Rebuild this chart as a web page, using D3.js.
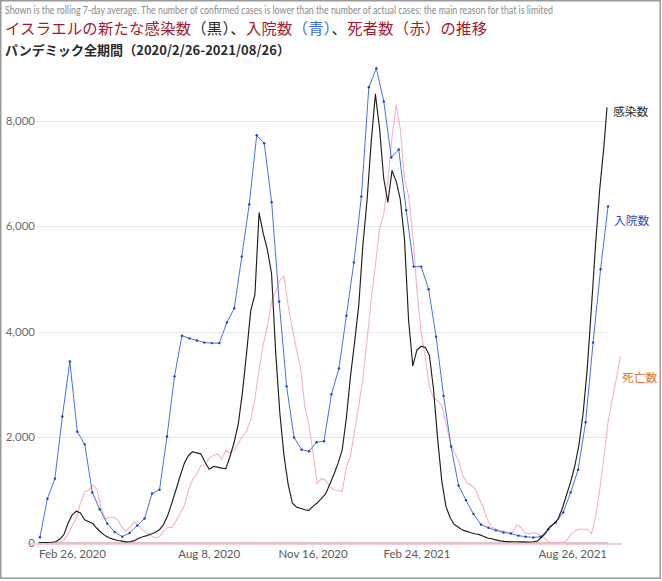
<!DOCTYPE html>
<html><head><meta charset="utf-8">
<script src="https://cdn.jsdelivr.net/npm/d3@7"></script>
<style>
html,body{margin:0;padding:0;background:#fff;}
svg{display:block;}
</style>
</head><body>
<svg id="chart" width="662" height="581"></svg>
<script>
// ---------- DATA ----------
const startDate = "2020-02-26";
const endDate = "2021-08-26";
const yTicks = [0, 2000, 4000, 6000, 8000];
const xTickDates = ["2020-02-26", "2020-08-08", "2020-11-16", "2021-02-24", "2021-08-26"];
const xTickLabels = ["Feb 26, 2020", "Aug 8, 2020", "Nov 16, 2020", "Feb 24, 2021", "Aug 26, 2021"];

// Confirmed cases (black), rolling 7-day avg, sampled every 4 days (last = Aug 26, 2021)
const caseStepDays = 4;
const caseValues = [0,0,0,5,15,60,150,360,520,595,560,430,395,360,265,185,130,85,60,38,
25,12,15,35,80,110,130,160,190,240,340,510,750,1000,1260,1500,1650,1720,1700,1680,
1520,1390,1440,1430,1410,1400,1630,1900,2250,2850,3600,4400,4700,6250,5860,5550,5100,3600,2450,1650,
1100,750,670,650,620,610,690,750,830,920,1100,1290,1500,1750,2350,3150,3800,4500,5650,6500,
7600,8500,7850,6900,6450,7050,6850,6500,5750,4200,3350,3650,3720,3700,3550,2900,1950,1150,680,470,
340,290,235,210,185,165,150,120,85,70,50,30,20,18,15,15,13,12,10,15,
25,100,180,300,360,450,650,900,1150,1450,1850,2450,3300,4450,5650,6700,7500,8250];

// Hospitalised (blue), sampled points shown with markers
const hospValues = [100,830,1210,2390,3430,2100,1860,950,630,360,200,110,180,320,455,930,1000,2010,3150,3920,
3870,3830,3790,3780,3780,4170,4440,5420,6410,7720,7570,6450,4570,2960,1990,1760,1730,1900,1920,2810,
3300,4300,5310,6560,8630,8990,8360,7300,7450,6300,5230,5230,4800,3900,2780,1820,1080,800,540,340,
280,230,190,170,130,110,95,110,250,380,570,950,1380,2280,3790,5180,6370];
const hospFirstDay = 1;
const hospLastDay = 548;

// Deaths (red/pink, scaled), sampled every 4 days
const deathStepDays = 4;
const deathValues = [0,0,0,0,0,8,40,160,310,460,750,960,990,1090,1000,650,440,480,480,430,
285,220,300,390,310,240,190,130,90,110,210,290,285,400,555,700,990,1200,1300,1460,
1470,1600,1650,1680,1580,1750,1700,1750,1880,2010,2110,2330,2730,3270,3750,4100,4570,4750,4970,5050,
4490,4060,3660,3300,2580,2230,1700,1120,1210,1180,1070,1000,990,960,1420,1640,2120,2600,3110,3850,
4610,5250,5950,6220,6850,7680,8300,7840,6900,6570,5840,4770,3980,3520,2950,2740,2690,2600,2250,1900,
1710,1560,1280,1130,1090,1020,830,660,420,290,255,230,210,200,190,330,290,190,160,190,
160,120,60,0,0,0,0,30,150,220,250,250,250,170,480,1000,1600,2280,2710,3100,3530];

const seriesLabels = ["感染数", "入院数", "死亡数"];

// ---------- CHART ----------
const svg = d3.select("#chart");
const parse = d3.utcParse("%Y-%m-%d");
const t0 = parse(startDate), t1 = parse(endDate);
const x = d3.scaleUtc().domain([t0, t1]).range([38.9, 607]);
const y = d3.scaleLinear().domain([0, 8000]).range([542.5, 120.5]);

const casePts = caseValues.map((v, i) => ({d: d3.utcDay.offset(t0, Math.min(i * caseStepDays, 547)), v}));
const deathPts = deathValues.map((v, i) => ({d: d3.utcDay.offset(t0, i * deathStepDays), v}));
const hospStep = (hospLastDay - hospFirstDay) / (hospValues.length - 1);
const hospPts = hospValues.map((v, i) => ({d: new Date(t0.getTime() + (hospFirstDay + i * hospStep) * 864e5), v}));

// frame
svg.append("rect").attr("x", 0.75).attr("y", 0.75).attr("width", 659.5).attr("height", 577.5)
  .attr("fill", "none").attr("stroke", "#9a9a9a").attr("stroke-width", 1.5);

// titles
svg.append("text").attr("x", 5).attr("y", 14)
  .attr("font-family", "Lato, 'Liberation Sans Narrow', sans-serif").attr("font-size", 10.5)
  .attr("fill", "#8a8a8a").attr("textLength", 548).attr("lengthAdjust", "spacingAndGlyphs")
  .text("Shown is the rolling 7-day average. The number of confirmed cases is lower than the number of actual cases; the main reason for that is limited");

const red = "#a8182b";
const t2 = svg.append("text").attr("x", 5).attr("y", 34)
  .attr("font-family", "'Noto Sans CJK JP', sans-serif").attr("font-size", 15.3)
  .attr("textLength", 482).attr("lengthAdjust", "spacing");
[["イスラエルの新たな感染数", red], ["（黒）、", "#2a2a2a"], ["入院数", red], ["（青）", "#3b6de0"],
 ["、", "#2a2a2a"], ["死者数", red], ["（赤）", red], ["の推移", red]]
 .forEach(([s, c]) => t2.append("tspan").attr("fill", c).text(s));

svg.append("text").attr("x", 5).attr("y", 55)
  .attr("font-family", "'Noto Sans CJK JP', sans-serif").attr("font-size", 13).attr("font-weight", "bold")
  .attr("fill", "#2a2a2a").attr("textLength", 285).attr("lengthAdjust", "spacing")
  .text("パンデミック全期間（2020/2/26-2021/08/26）");

// grid + y labels
const g = svg.append("g");
g.selectAll("line.grid").data(yTicks.filter(d => d > 0)).join("line")
  .attr("x1", 37).attr("x2", 608).attr("y1", d => Math.round(y(d)) + 0.5).attr("y2", d => Math.round(y(d)) + 0.5)
  .attr("stroke", "#e6e6e6").attr("stroke-width", 1);
g.selectAll("text.yl").data(yTicks).join("text")
  .attr("x", 35).attr("y", d => y(d) + 4).attr("text-anchor", "end")
  .attr("font-family", "Lato, sans-serif").attr("font-size", 11.5).attr("fill", "#6b6b6b")
  .text(d => d3.format(",")(d));

// baseline
svg.append("line").attr("x1", 30).attr("x2", 622).attr("y1", 544).attr("y2", 544)
  .attr("stroke", "#f6cbd6").attr("stroke-width", 2);
svg.append("line").attr("x1", 38).attr("x2", 608).attr("y1", 542.8).attr("y2", 542.8)
  .attr("stroke", "#c9a9b1").attr("stroke-width", 1);

// x ticks + labels
xTickDates.forEach((s, i) => {
  const xp = x(parse(s));
  svg.append("line").attr("x1", xp).attr("x2", xp).attr("y1", 544).attr("y2", 548)
    .attr("stroke", "#dcdcdc");
  svg.append("text").attr("x", xp).attr("y", 558)
    .attr("text-anchor", i === 0 ? "start" : (i === xTickDates.length - 1 ? "end" : "middle"))
    .attr("font-family", "Lato, sans-serif").attr("font-size", 11.5).attr("fill", "#5a5a5a")
    .text(xTickLabels[i]);
});

const line = d3.line().x(p => x(p.d)).y(p => y(p.v)).curve(d3.curveLinear);

// deaths (pink)
svg.append("path").datum(deathPts).attr("d", line)
  .attr("fill", "none").attr("stroke", "#f2a6ba").attr("stroke-width", 1.1).attr("opacity", 0.85);

// hospitalised (blue)
svg.append("path").datum(hospPts).attr("d", line)
  .attr("fill", "none").attr("stroke", "#4a6fe3").attr("stroke-width", 1);
svg.selectAll("circle.h").data(hospPts).join("circle")
  .attr("cx", p => x(p.d)).attr("cy", p => y(p.v)).attr("r", 1.2).attr("fill", "#2a3fae");

// cases (black)
svg.append("path").datum(casePts).attr("d", line)
  .attr("fill", "none").attr("stroke", "#1f1f1f").attr("stroke-width", 1.15).attr("stroke-linejoin", "round");

// series labels
const lastCase = casePts[casePts.length - 1];
const lastHosp = hospPts[hospPts.length - 1];
const lastDeath = deathPts[deathPts.length - 1];
const lab = [
  {t: seriesLabels[0], x: 613, y: y(lastCase.v) + 9, c: "#2b2b2b"},
  {t: seriesLabels[1], x: 614, y: y(lastHosp.v) + 19, c: "#2a48bd"},
  {t: seriesLabels[2], x: 622, y: y(lastDeath.v) + 26, c: "#e4702a"}
];
svg.selectAll("text.sl").data(lab).join("text")
  .attr("x", d => d.x).attr("y", d => d.y)
  .attr("font-family", "'Noto Sans CJK JP', sans-serif").attr("font-size", 11.8).attr("fill", d => d.c)
  .text(d => d.t);
</script>
</body></html>
